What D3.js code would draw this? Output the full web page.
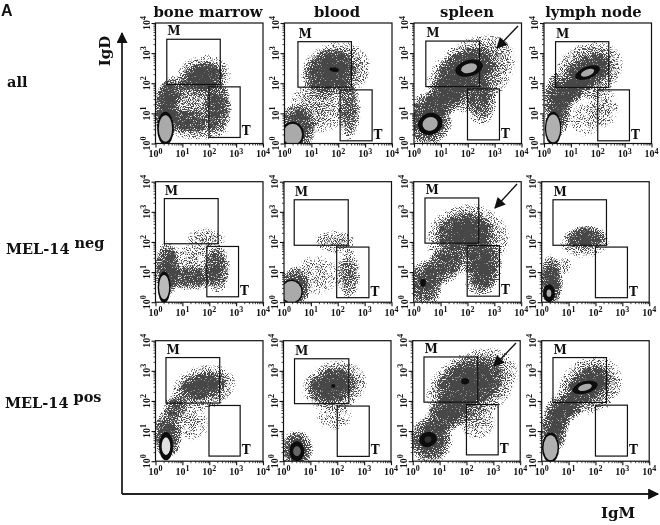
<!DOCTYPE html>
<html><head><meta charset="utf-8">
<style>html,body{margin:0;padding:0;background:#fff}svg{display:block;filter:blur(.4px)}</style>
<script src="https://cdnjs.cloudflare.com/ajax/libs/d3/7.8.5/d3.min.js"></script>
</head><body><svg id="c" width="660" height="525"></svg>
<script>
const tissues = ["bone marrow","blood","spleen","lymph node"];
const rowNames = [["all",""],["MEL-14 ","neg"],["MEL-14 ","pos"]];
const decades = [0,1,2,3,4];
// gates, in log10 units: [x0,x1,y0,y1]
const gatesM = [
 [[.42,2.41,1.96,3.46],[.5,2.49,1.87,3.38],[.44,2.44,1.89,3.4],[.43,2.41,1.86,3.38]],
 [[.33,2.33,1.94,3.44],[.38,2.39,1.89,3.4],[.42,2.42,1.96,3.46],[.42,2.41,1.89,3.4]],
 [[.39,2.39,1.93,3.44],[.41,2.43,1.91,3.4],[.42,2.42,1.96,3.46],[.42,2.41,1.95,3.44]]];
const gatesT = [
 [[1.99,3.15,.2,1.88],[2.07,3.26,.09,1.78],[1.99,3.18,.12,1.81],[2,3.18,.09,1.78]],
 [[1.91,3.09,.18,1.85],[1.96,3.16,.15,1.83],[1.99,3.19,.2,1.88],[2,3.19,.15,1.83]],
 [[1.99,3.15,.17,1.85],[2,3.19,.16,1.83],[2,3.18,.21,1.88],[2,3.19,.17,1.86]]];
// cell populations, log10 units: [x,y,rx,ry,tilt,density]
const popsAll = [
 [[1.75,2.2,.85,.5,10,1],[1.8,2.25,1.05,.72,10,.55],[.4,1.1,.5,1,0,1],[1,.75,1.1,.4,0,.8],[2.3,1.2,.55,.9,0,.85],[1.5,1.3,1.3,1,0,.4],[1.6,.5,1.2,.4,0,.4],[.6,1.7,.5,.6,-30,.7]],
 [[1.7,2.4,1.05,.75,20,1],[1.9,2.4,1.35,1,20,.6],[2.4,1.1,.45,1,0,.72],[1.2,1.2,1.1,.8,-45,.4],[.45,.55,.75,.8,0,1]],
 [[1.9,2.4,1.25,.75,28,1.05],[2.1,2.3,1.9,1.15,35,.65],[.5,.8,.95,.9,0,1],[1.2,1.6,1,.6,40,.95],[2.5,1.4,.6,.8,0,.7]],
 [[1.6,2.35,1.05,.55,30,1.05],[1.65,2.4,1.4,.95,30,.62],[.5,1.3,.55,1.1,0,1],[1,1.7,.7,.4,45,.85],[2.2,1.2,.6,.7,0,.32],[1.5,.8,.7,.6,0,.25]]];
const popsNeg = [
 [[.45,1.1,.5,.95,0,1],[1.3,.8,1,.42,0,.85],[2.3,1.1,.5,.8,0,.82],[1.9,2.1,.75,.4,0,.34],[1.5,1.3,1.2,.7,0,.3]],
 [[.4,.5,.62,.68,0,1],[2.4,.95,.45,.85,0,.6],[1.9,2,.8,.4,0,.38],[1.2,.9,.9,.7,0,.26]],
 [[1.9,2.3,1.15,.7,5,1],[2,2.1,1.6,1.2,5,.6],[2.6,1.2,.7,.85,0,1],[.4,.6,.7,.8,0,.9],[1.1,1.2,.9,.6,40,.8],[2.5,.6,.6,.4,0,.5]],
 [[.35,.7,.45,.9,0,1],[1.65,2.15,.8,.4,5,.92],[1.6,2,.95,.55,5,.42],[.85,1.2,.3,.3,0,.3]]];
const popsPos = [
 [[1.75,2.5,.95,.45,15,1],[1.8,2.45,1.25,.75,15,.58],[.45,.9,.55,.85,0,1.05],[.75,1.8,.5,.4,50,.8],[1.3,1.3,.75,.6,-45,.3]],
 [[1.8,2.5,.95,.6,15,1],[1.9,2.5,1.25,.85,15,.6],[.5,.4,.62,.65,0,1],[1.9,1.5,.7,.5,0,.26]],
 [[2.1,2.6,1.4,.85,25,1.05],[2.2,2.5,1.9,1.15,30,.65],[.65,.7,.85,.8,0,1.05],[1.3,1.55,1,.6,35,.95],[2.4,1.3,.7,.6,0,.36]],
 [[1.75,2.55,.95,.55,30,1.05],[1.8,2.5,1.3,.95,30,.6],[.5,1.2,.55,1.1,-10,1],[1,1.8,.65,.45,45,.9]]];
// saturated cores: [x,y,rx,ry,tilt,innerFraction,innerGray]
const coresAll = [
 [[.37,.5,.31,.55,0,.8,"#aaa"]],
 [[.3,.3,.42,.42,0,.84,"#aaa"],[1.85,2.45,.18,.07,-10,0,"#000"]],
 [[.6,.65,.46,.36,20,.62,"#aaa"],[2.05,2.5,.52,.27,15,.58,"#aaa"]],
 [[.34,.5,.31,.55,0,.84,"#b0b0b0"],[1.62,2.35,.48,.2,22,.55,"#aaa"]]];
const coresNeg = [
 [[.32,.5,.24,.52,0,.78,"#bbb"]],
 [[.28,.35,.42,.4,0,.88,"#aaa"]],
 [[.35,.65,.1,.14,0,0,"#000"]],
 [[.27,.3,.22,.3,0,.4,"#aaa"]]];
const coresPos = [
 [[.39,.5,.26,.47,0,.62,"#e0e0e0"]],
 [[.5,.33,.28,.33,0,.5,"#666"],[1.85,2.5,.08,.06,0,0,"#000"]],
 [[.57,.72,.33,.25,15,.4,"#333"],[1.95,2.65,.15,.1,0,0,"#000"]],
 [[.33,.45,.32,.5,0,.82,"#b0b0b0"],[1.61,2.45,.48,.2,15,.55,"#aaa"]]];
const popsByRow = [popsAll,popsNeg,popsPos];
const coresByRow = [coresAll,coresNeg,coresPos];

// layout
const panelLeft = [[155.5,284.5,414,544],[155.5,284,413.7,541.7],[155.5,283.5,412.7,541.7]];
const panelTop = [23,181.7,340.7];
const panelW = 107.5, panelH = 120.5;
const ink = "#111";
const serif = "'DejaVu Serif',serif", tickFont = "'Liberation Serif',serif";
const svg = d3.select("#c");
const defs = svg.append("defs");
const grad = defs.append("radialGradient").attr("id","blob");
[[0,1],[.5,.75],[.8,.42],[.92,.2],[1,0]].forEach(([o,a])=>grad.append("stop").attr("offset",o).attr("stop-color","#000").attr("stop-opacity",a));
const f = defs.append("filter").attr("id","speck").attr("filterUnits","userSpaceOnUse")
  .attr("x",0).attr("y",0).attr("width",660).attr("height",525).attr("color-interpolation-filters","sRGB");
f.append("feTurbulence").attr("type","fractalNoise").attr("baseFrequency",.93).attr("numOctaves",2).attr("seed",7).attr("result","t");
f.append("feColorMatrix").attr("in","t").attr("type","matrix").attr("values","0 0 0 0 0 0 0 0 0 0 0 0 0 0 0 2.2 0 0 0 -.6").attr("result","n");
f.append("feComposite").attr("in","SourceAlpha").attr("in2","n").attr("operator","arithmetic")
  .attr("k1",0).attr("k2",3.4).attr("k3",3.4).attr("k4",-2.55).attr("result","m");
const ct=f.append("feComponentTransfer").attr("in","SourceAlpha").attr("result","mask");
ct.append("feFuncA").attr("type","linear").attr("slope",8).attr("intercept",0);
f.append("feComposite").attr("in","m").attr("in2","mask").attr("operator","in").attr("result","m2");
f.append("feFlood").attr("flood-color","#474747").attr("result","fl");
f.append("feComposite").attr("in","fl").attr("in2","m2").attr("operator","in");
defs.append("filter").attr("id","soft").append("feGaussianBlur").attr("stdDeviation",.7);

const tickVals = d3.range(0,4).flatMap(k=>d3.range(1,10).map(m=>m*10**k)).concat([1e4]);
const isMajor = v=>Math.abs(Math.log10(v)%1)<1e-9;
function powLabel(sel,exp){
  sel.append("tspan").text("10");
  sel.append("tspan").attr("dy",-3.5).attr("font-size",8).text(exp);
}

rowNames.forEach((rn,r)=>tissues.forEach((t,c)=>{
  const L=panelLeft[r][c],T=panelTop[r];
  const x=d3.scaleLog().domain([1,1e4]).range([L,L+panelW]);
  const y=d3.scaleLog().domain([1,1e4]).range([T+panelH,T]);
  const pxPerX=panelW/4, pxPerY=panelH/4;
  const id=`clip${r}${c}`;
  defs.append("clipPath").attr("id",id).append("rect").attr("x",L).attr("y",T).attr("width",panelW).attr("height",panelH);
  const g=svg.append("g").attr("clip-path",`url(#${id})`);
  g.append("g").attr("filter","url(#speck)").selectAll("ellipse").data(popsByRow[r][c]).join("ellipse")
    .attr("transform",d=>`translate(${x(10**d[0])},${y(10**d[1])}) rotate(${-d[4]})`)
    .attr("rx",d=>d[2]*pxPerX).attr("ry",d=>d[3]*pxPerY)
    .attr("fill","url(#blob)").attr("fill-opacity",d=>Math.min(1,d[5]));
  const cg=g.append("g").attr("filter","url(#soft)");
  coresByRow[r][c].forEach(d=>{
    const tr=`translate(${x(10**d[0])},${y(10**d[1])}) rotate(${-d[4]})`;
    cg.append("ellipse").attr("transform",tr).attr("rx",d[2]*pxPerX).attr("ry",d[3]*pxPerY).attr("fill","#0a0a0a");
    if(d[5]>0) cg.append("ellipse").attr("transform",tr).attr("rx",d[2]*d[5]*pxPerX).attr("ry",d[3]*d[5]*pxPerY).attr("fill",d[6]);
  });
  // frame
  svg.append("rect").attr("x",L).attr("y",T).attr("width",panelW).attr("height",panelH).attr("fill","none").attr("stroke",ink).attr("stroke-width",1.2);
  // axes
  const ax=d3.axisBottom(x).tickValues(tickVals).tickFormat("").tickSize(2);
  const ay=d3.axisLeft(y).tickValues(tickVals).tickFormat("").tickSize(2);
  const gx=svg.append("g").attr("transform",`translate(0,${T+panelH})`).call(ax);
  const gy=svg.append("g").attr("transform",`translate(${L},0)`).call(ay);
  [gx,gy].forEach(a=>{a.select(".domain").remove();a.selectAll("line").attr("stroke",ink).attr("stroke-width",.8);});
  gx.selectAll(".tick").filter(isMajor).select("line").attr("y2",4).attr("stroke-width",1.1);
  gy.selectAll(".tick").filter(isMajor).select("line").attr("x2",-4).attr("stroke-width",1.1);
  decades.forEach(e=>{
    svg.append("text").attr("x",x(10**e)).attr("y",T+panelH+13.5).attr("text-anchor","middle")
      .attr("font-family",tickFont).attr("font-weight",700).attr("font-size",10).attr("fill",ink).call(powLabel,e);
    svg.append("text").attr("transform",`translate(${L-6},${y(10**e)}) rotate(-90)`).attr("text-anchor","middle")
      .attr("font-family",tickFont).attr("font-weight",700).attr("font-size",10).attr("fill",ink).call(powLabel,e);
  });
  // gates
  const M=gatesM[r][c],Tg=gatesT[r][c];
  [M,Tg].forEach(b=>svg.append("rect").attr("x",x(10**b[0])).attr("y",y(10**b[3]))
    .attr("width",x(10**b[1])-x(10**b[0])).attr("height",y(10**b[2])-y(10**b[3]))
    .attr("fill","none").attr("stroke",ink).attr("stroke-width",1.2));
  svg.append("text").attr("x",x(10**M[0])+.5).attr("y",y(10**M[3])-4).attr("font-family",serif).attr("font-weight",700).attr("font-size",12).attr("fill",ink).text("M");
  svg.append("text").attr("x",x(10**Tg[1])+1.5).attr("y",y(10**Tg[2])-2).attr("font-family",serif).attr("font-weight",700).attr("font-size",12).attr("fill",ink).text("T");
}));

// column titles
const titleX=[208,337,467,593.5];
tissues.forEach((t,c)=>svg.append("text").attr("x",titleX[c]).attr("y",17).attr("text-anchor","middle")
  .attr("font-family",serif).attr("font-weight",700).attr("font-size",14.8).attr("fill",ink).text(t));
// row labels
const rowLabelY=[87,254,408], rowLabelX=[7,6,5];
rowNames.forEach((rn,r)=>{
  const tx=svg.append("text").attr("x",rowLabelX[r]).attr("y",rowLabelY[r]).attr("font-family",serif).attr("font-weight",700).attr("font-size",14.5).attr("fill",ink);
  tx.append("tspan").text(rn[0]);
  if(rn[1]) tx.append("tspan").attr("dy",-6).text(rn[1]);
});
svg.append("text").attr("x",1).attr("y",16).attr("font-family","'Liberation Sans',sans-serif").attr("font-weight",700).attr("font-size",16).attr("fill",ink).text("A");
svg.append("text").attr("transform","translate(110,51) rotate(-90)").attr("text-anchor","middle").attr("font-family",serif).attr("font-weight",700).attr("font-size",15).attr("fill",ink).text("IgD");
svg.append("text").attr("x",601).attr("y",518).attr("font-family",serif).attr("font-weight",700).attr("font-size",15).attr("fill",ink).text("IgM");
// main axes
defs.append("marker").attr("id","big").attr("viewBox","0 0 10 10").attr("refX",9).attr("refY",5).attr("markerUnits","userSpaceOnUse").attr("markerWidth",13).attr("markerHeight",11).attr("orient","auto")
  .append("path").attr("d","M0,0L10,5L0,10Z").attr("fill","#111");
svg.append("path").attr("d","M122,494V33").attr("fill","none").attr("stroke","#222").attr("stroke-width",1.8).attr("marker-end","url(#big)");
svg.append("path").attr("d","M122,494H658").attr("fill","none").attr("stroke","#222").attr("stroke-width",1.8).attr("marker-end","url(#big)");
// annotation arrows in the spleen panels
const arrows=[[518,26,497,48],[517,184,495,208],[516,343,494,366]];
arrows.forEach(a=>svg.append("path").attr("d",`M${a[0]},${a[1]}L${a[2]},${a[3]}`).attr("fill","none").attr("stroke","#111").attr("stroke-width",1.4).attr("marker-end","url(#big)"));
</script></body></html>
